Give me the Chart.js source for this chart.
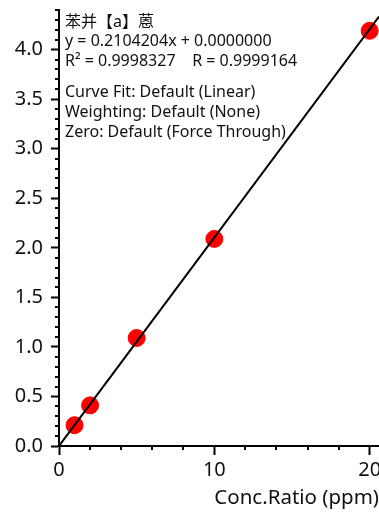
<!DOCTYPE html>
<html>
<head>
<meta charset="utf-8">
<script src="https://cdn.jsdelivr.net/npm/chart.js@4.4.1/dist/chart.umd.min.js"></script>
<style>
  html, body { margin: 0; padding: 0; background: #fff; }
  #wrap { width: 379px; height: 512px; }
</style>
</head>
<body>
<div id="wrap"><canvas id="calib" width="379" height="512"></canvas></div>
<script>
// calibration points (conc. ratio vs response ratio)
const concRatio = [1, 2, 5, 10, 20];
const respRatio = [0.21, 0.41, 1.09, 2.09, 4.19];

// regression shown in the header
const fitSlope = 0.2104204;
const fitIntercept = 0.0;

const xRange = [0, 20.6];
const yRange = [0, 4.4];

const infoLines = [
    '苯并【a】蒽',
    'y = 0.2104204x + 0.0000000',
    'R² = 0.9998327    R = 0.9999164',
    'Curve Fit: Default (Linear)',
    'Weighting: Default (None)',
    'Zero: Default (Force Through)'
];

const FONT = "'Noto Sans', 'Noto Sans CJK SC', sans-serif";

function isMajorY(v) { return Math.abs(v * 2 - Math.round(v * 2)) < 1e-6; }
function isMajorX(v) { return Math.abs(v / 10 - Math.round(v / 10)) < 1e-6; }

// short ticks for the unlabelled steps
const minorTicks = {
    id: 'minorTicks',
    afterDraw(chart) {
        const c = chart.ctx;
        const xs = chart.scales.x, ys = chart.scales.y;
        c.save();
        c.strokeStyle = '#000';
        c.lineWidth = 2;
        c.beginPath();
        ys.ticks.forEach(t => {
            if (isMajorY(t.value)) return;
            const py = Math.round(ys.getPixelForValue(t.value));
            c.moveTo(xs.left - 4, py);
            c.lineTo(xs.left, py);
        });
        xs.ticks.forEach(t => {
            if (isMajorX(t.value)) return;
            const px = Math.round(xs.getPixelForValue(t.value));
            c.moveTo(px, ys.bottom);
            c.lineTo(px, ys.bottom + 4);
        });
        c.stroke();
        c.restore();
    }
};

const infoText = {
    id: 'infoText',
    afterDraw(chart) {
        const c = chart.ctx;
        const left = chart.chartArea.left + 6;
        const baselines = [27, 46, 66, 97, 117, 137];
        c.save();
        c.fillStyle = '#111';
        c.font = '16px ' + FONT;
        c.textBaseline = 'alphabetic';
        infoLines.forEach((s, i) => c.fillText(s, left, baselines[i]));
        c.restore();
    }
};

new Chart(document.getElementById('calib'), {
    type: 'scatter',
    data: {
        datasets: [{
            type: 'line',
            order: 0,
            data: [
                { x: xRange[0], y: fitSlope * xRange[0] + fitIntercept },
                { x: xRange[1], y: fitSlope * xRange[1] + fitIntercept }
            ],
            borderColor: '#000',
            borderWidth: 2,
            pointRadius: 0,
            fill: false
        }, {
            order: 1,
            data: concRatio.map((x, i) => ({ x: x, y: respRatio[i] })),
            backgroundColor: '#ff0000',
            borderColor: '#ff0000',
            pointRadius: 8.5,
            pointHoverRadius: 8.5
        }]
    },
    options: {
        responsive: false,
        animation: false,
        layout: { autoPadding: false, padding: { top: 10, right: 0, left: 0, bottom: 0 } },
        plugins: {
            legend: { display: false },
            tooltip: { enabled: false }
        },
        scales: {
            x: {
                type: 'linear',
                min: xRange[0],
                max: xRange[1],
                afterFit: s => { s.height = 66; s.paddingLeft = 0; s.paddingRight = 0; },
                border: { color: '#000', width: 2 },
                grid: {
                    drawOnChartArea: false,
                    tickLength: 9,
                    tickWidth: 2,
                    tickColor: ctx => isMajorX(ctx.tick.value) ? '#000' : 'rgba(0,0,0,0)'
                },
                ticks: {
                    stepSize: 2,
                    includeBounds: false,
                    maxRotation: 0,
                    autoSkip: false,
                    padding: 3,
                    color: '#111',
                    font: { family: FONT, size: 20 },
                    callback: v => isMajorX(v) ? String(Math.round(v)) : ''
                },
                title: {
                    display: true,
                    text: 'Conc.Ratio (ppm)',
                    align: 'end',
                    color: '#111',
                    font: { family: FONT, size: 20.5 },
                    padding: { top: 0, bottom: 2 }
                }
            },
            y: {
                type: 'linear',
                min: yRange[0],
                max: yRange[1],
                afterFit: s => { s.width = 59; s.paddingTop = 0; s.paddingBottom = 0; },
                border: { color: '#000', width: 2 },
                grid: {
                    drawOnChartArea: false,
                    tickLength: 8,
                    tickWidth: 2,
                    tickColor: ctx => isMajorY(ctx.tick.value) ? '#000' : 'rgba(0,0,0,0)'
                },
                ticks: {
                    stepSize: 0.1,
                    includeBounds: false,
                    autoSkip: false,
                    padding: 8,
                    color: '#111',
                    font: { family: FONT, size: 20 },
                    callback: v => isMajorY(v) ? v.toFixed(1) : ''
                }
            }
        }
    },
    plugins: [minorTicks, infoText]
});
</script>
</body>
</html>
